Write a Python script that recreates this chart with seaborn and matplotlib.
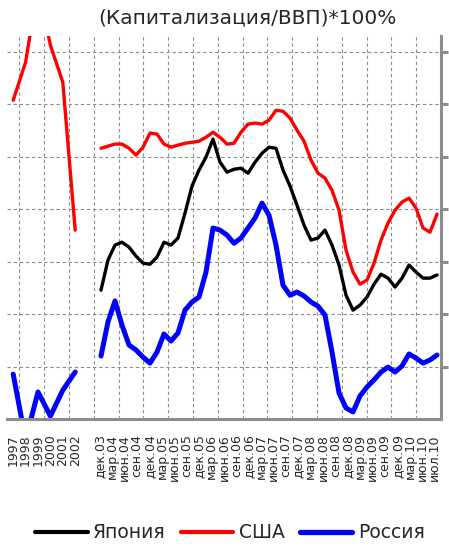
import matplotlib
matplotlib.use("Agg")
import matplotlib.pyplot as plt
from matplotlib.lines import Line2D
import numpy as np
import pandas as pd
import seaborn as sns

# подписи оси X
years = ["1997", "1998", "1999", "2000", "2001", "2002"]
quarters = ["дек.03", "мар.04", "июн.04", "сен.04", "дек.04", "мар.05", "июн.05",
            "сен.05", "дек.05", "мар.06", "июн.06", "сен.06", "дек.06", "мар.07",
            "июн.07", "сен.07", "дек.07", "мар.08", "июн.08", "сен.08", "дек.08",
            "мар.09", "июн.09", "сен.09", "дек.09", "мар.10", "июн.10", "июл.10"]

# годовые данные 1997-2002
usa_annual = [121.5, 136.0, 165.0, 142.5, 128.4, 72.0]
russia_annual = [17.1, -8.0, 10.3, 1.1, 11.0, 17.9]

# дек.03 - июл.10
japan = [49.1, 60.6, 66.3, 67.4, 65.5, 62.1, 59.4, 59.0, 61.7, 67.4, 66.3, 69.0,
         78.5, 88.8, 94.9, 99.8, 106.7, 97.9, 94.1, 95.2, 95.6, 93.7, 97.9, 101.3,
         103.6, 103.2, 94.9, 88.8, 81.5, 73.9, 68.2, 69.0, 72.0, 66.3, 58.7, 47.2,
         41.5, 43.4, 46.5, 51.4, 55.2, 53.7, 50.3, 53.7, 58.7, 56.0, 53.7, 53.7, 54.9]
usa = [103.2, 104.0, 104.8, 104.8, 103.2, 100.6, 103.6, 109.0, 108.6, 104.8, 103.6, 104.4,
       105.1, 105.5, 105.9, 107.4, 109.3, 107.4, 104.8, 105.1, 109.3, 112.4, 112.8, 112.4,
       113.9, 117.7, 117.3, 114.7, 110.1, 105.9, 98.7, 93.7, 91.8, 87.2, 79.6, 64.4,
       56.0, 51.4, 53.0, 59.4, 68.2, 74.7, 79.6, 82.7, 84.2, 80.4, 72.8, 71.2, 78.1]
russia = [24.0, 37.0, 45.0, 35.8, 28.2, 26.3, 23.6, 21.3, 25.5, 32.4, 29.7, 32.8,
          41.5, 44.6, 46.5, 56.0, 72.8, 72.0, 70.1, 67.0, 69.0, 72.8, 76.6, 82.3,
          77.7, 66.3, 51.0, 47.2, 48.4, 46.9, 44.6, 43.0, 39.6, 25.5, 9.9, 4.2,
          2.7, 8.8, 12.2, 14.9, 17.9, 19.8, 17.9, 20.2, 24.8, 23.2, 21.3, 22.5, 24.4]

sns.set_style("white")
plt.rcParams['font.family'] = ['DejaVu Sans']

grey = "#8c8c8c"
fig = plt.figure(figsize=(4.49, 5.47), dpi=100)
ax = fig.add_axes([7 / 449, 1 - 419 / 547, 434 / 449, 383 / 547])

pos_year = np.arange(len(years))
pos_quarter = np.arange(len(quarters)) + len(years) + 1
pos_month = np.linspace(7.08, 34.18, len(japan))

df_year = pd.DataFrame({"x": pos_year, "usa": usa_annual, "russia": russia_annual})
df_month = pd.DataFrame({"x": pos_month, "japan": japan, "usa": usa, "russia": russia})

lw = dict(solid_joinstyle="round", solid_capstyle="round")
sns.lineplot(data=df_year, x="x", y="usa", color="#ff0000", linewidth=2.4, ax=ax, **lw)
sns.lineplot(data=df_year, x="x", y="russia", color="#0000ff", linewidth=3.6, ax=ax, **lw)
sns.lineplot(data=df_month, x="x", y="japan", color="#000000", linewidth=2.4, ax=ax, **lw)
sns.lineplot(data=df_month, x="x", y="usa", color="#ff0000", linewidth=2.4, ax=ax, **lw)
sns.lineplot(data=df_month, x="x", y="russia", color="#0000ff", linewidth=3.6, ax=ax, **lw)

ax.set_xlim(-0.5, 34.5)
ax.set_ylim(0, 146)
ax.set_xlabel("")
ax.set_ylabel("")

ax.set_xticks(list(pos_year) + list(pos_quarter))
ax.set_xticklabels(years + quarters, rotation=90, fontsize=9, va="top")
ax.set_xticks(np.arange(0.5, 34, 2), minor=True)
ax.tick_params(axis="x", which="major", length=0, pad=11)
ax.tick_params(axis="x", which="minor", length=5, width=2.2, color=grey, direction="out")

ax.set_yticks(np.arange(20, 141, 20))
ax.yaxis.tick_right()
ax.tick_params(axis="y", which="major", length=5, width=2.2, color=grey, labelright=False)

ax.grid(False)
for xg in np.arange(0.5, 34, 2):
    ax.axvline(xg, color=grey, linewidth=0.8, linestyle=(0, (3, 2.5)), zorder=0)
for yg in np.arange(20, 141, 20):
    ax.axhline(yg, color=grey, linewidth=0.8, linestyle=(0, (3, 2.5)), zorder=0)

for side in ["left", "top"]:
    ax.spines[side].set_visible(False)
for side in ["bottom", "right"]:
    ax.spines[side].set_color(grey)
    ax.spines[side].set_linewidth(2.2)

fig.text(247 / 449, 1 - 18 / 547, "(Капитализация/ВВП)*100%", fontsize=14.5,
         ha="center", va="center")

handles = [Line2D([], [], color="#000000", linewidth=3),
           Line2D([], [], color="#ff0000", linewidth=3),
           Line2D([], [], color="#0000ff", linewidth=3.8)]
fig.legend(handles, ["Япония", "США", "Россия"], loc="center", ncol=3,
           bbox_to_anchor=(230 / 449, 1 - 533 / 547), frameon=False, fontsize=13.5,
           handlelength=2.8, handletextpad=0.3, columnspacing=0.8)

fig.savefig("out.png", dpi=100)
